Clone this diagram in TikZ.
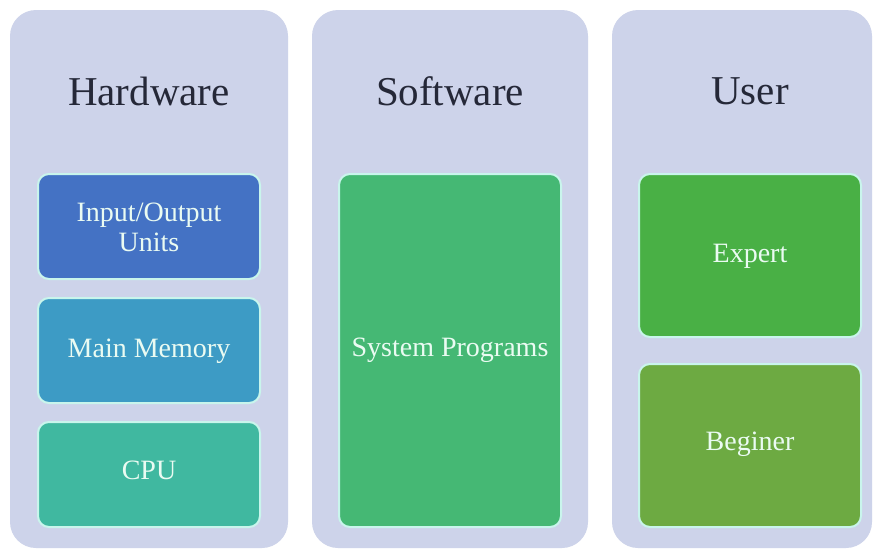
\documentclass[tikz,border=0pt]{standalone}
\usepackage{fontspec}
\setmainfont{Liberation Serif}
\definecolor{panelbg}{HTML}{CDD3EA}
\definecolor{titlecol}{HTML}{252838}
\definecolor{iocol}{HTML}{4472C4}
\definecolor{memcol}{HTML}{3D9BC5}
\definecolor{cpucol}{HTML}{40B8A0}
\definecolor{syscol}{HTML}{45B874}
\definecolor{expcol}{HTML}{49B045}
\definecolor{begcol}{HTML}{6DAA42}
\definecolor{edgecol}{HTML}{C9F5EC}
\definecolor{txtcol}{HTML}{EAFBF2}
\tikzset{
  panel/.style={fill=panelbg, draw=none, rounded corners=26pt},
  titletext/.style={text=titlecol, font=\fontsize{41}{46}\selectfont},
  innerbox/.style={draw=edgecol, line width=2pt, rounded corners=11pt},
  innertext/.style={text=txtcol, font=\fontsize{28}{30}\selectfont, align=center},
}
\begin{document}
\begin{tikzpicture}[x=1pt,y=-1pt]
\useasboundingbox (0,0) rectangle (881,550);
\fill[white] (0,0) rectangle (881,550);
% panels
\path[panel] (10,10) rectangle (288,548);
\path[panel] (312,10) rectangle (588,548);
\path[panel] (612,10) rectangle (872,548);
% titles
\node[titletext] (hwt) at (149,91) {Hardware};
\node[titletext] (swt) at (450,91) {Software};
\node[titletext] (ust) at (750,91) {User};
% hardware boxes
\filldraw[innerbox, fill=iocol] (38,174) rectangle (260,279);
\node[innertext] (io) at (149,227) {Input/Output\\Units};
\filldraw[innerbox, fill=memcol] (38,298) rectangle (260,403);
\node[innertext] (mem) at (149,351) {Main Memory};
\filldraw[innerbox, fill=cpucol] (38,422) rectangle (260,527);
\node[innertext] (cpu) at (149,470) {CPU};
% software
\filldraw[innerbox, fill=syscol] (339,174) rectangle (561,527);
\node[innertext] (sys) at (450,350) {System Programs};
% user
\filldraw[innerbox, fill=expcol] (639,174) rectangle (861,337);
\node[innertext] (exp) at (750,256) {Expert};
\filldraw[innerbox, fill=begcol] (639,364) rectangle (861,527);
\node[innertext] (beg) at (750,444) {Beginer};
\end{tikzpicture}
\end{document}
